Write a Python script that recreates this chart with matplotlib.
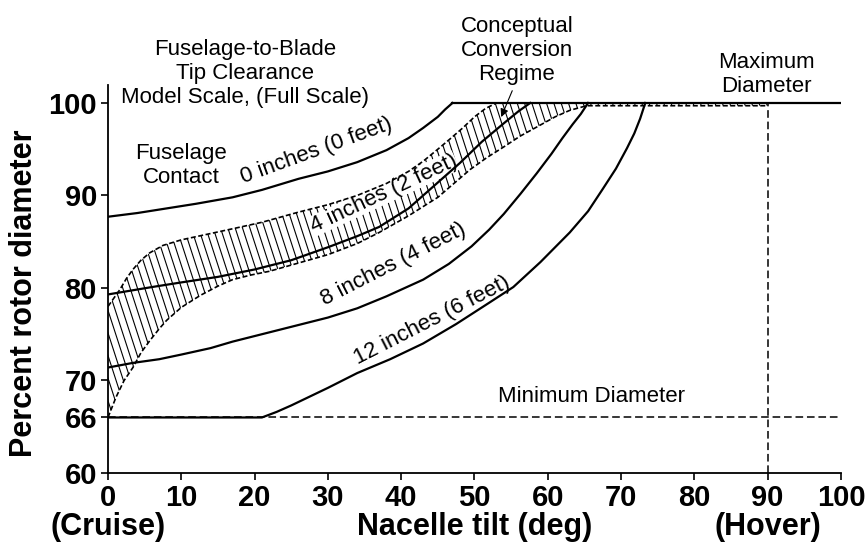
import numpy as np
import matplotlib.pyplot as plt
from matplotlib.collections import LineCollection
from matplotlib.patches import Polygon

plt.rcParams['font.family'] = ['Liberation Sans', 'DejaVu Sans']

# curves (nacelle tilt deg, percent rotor diameter)
curve_0in_x = [0, 4, 8, 12, 17, 21, 26, 30, 34, 38, 41, 43, 45, 46, 47]
curve_0in_y = [87.7, 88.1, 88.6, 89.1, 89.8, 90.6, 91.8, 92.6, 93.6, 94.9, 96.2, 97.3, 98.5, 99.3, 100]
curve_4in_x = [0, 3, 6, 10, 15, 20, 25, 30, 34, 37, 41, 45, 48, 51, 54, 56, 57.6]
curve_4in_y = [79.3, 79.7, 80.1, 80.6, 81.2, 82.0, 83.0, 84.4, 85.6, 86.6, 88.6, 91.4, 93.5, 95.8, 97.8, 99.1, 100]
curve_8in_x = [0, 3.4, 7, 10, 14, 17, 21, 25, 30, 34, 38, 43, 46.5, 49.6, 52, 54, 56.3,
               58.5, 60.5, 62, 63.4, 64.5, 65.5]
curve_8in_y = [71.4, 71.9, 72.3, 72.8, 73.5, 74.2, 75.0, 75.8, 76.8, 77.8, 79.1, 80.9, 82.6,
               84.5, 86.3, 88.0, 90.2, 92.4, 94.5, 96.2, 97.7, 98.8, 100]
curve_12in_x = [0, 21, 23, 25, 30, 34, 38.5, 43, 47.5, 52, 55.3, 59, 63, 65.5, 67.5, 69.3,
                70.8, 71.8, 72.6, 73.3]
curve_12in_y = [66, 66, 66.6, 67.3, 69.2, 70.8, 72.3, 74.0, 76.1, 78.4, 80.1, 82.8, 86, 88.3,
                90.7, 92.9, 95.1, 96.7, 98.3, 100]

# conceptual conversion regime boundaries
regime_upper_x = [0, 0.8, 1.6, 2.5, 3.4, 4.5, 5.7, 7.5, 10, 13.5, 17, 21, 26, 30, 34, 38, 41,
                  43, 45, 46.8, 48.4, 50, 51.5, 53]
regime_upper_y = [78, 78.9, 79.8, 81, 82, 83, 83.8, 84.6, 85.2, 85.8, 86.4, 87.1, 88.2, 89.0,
                  90.0, 91.3, 92.6, 93.7, 95.0, 96.2, 97.3, 98.5, 99.4, 100]
regime_lower_x = [0, 1.1, 2.2, 3.4, 4.5, 5.7, 7, 8, 10, 12.6, 15, 17, 19.5, 22, 26, 30, 34, 37,
                  41, 45, 47.2, 49.4, 51.7, 53.9, 56.2, 58.5, 61, 63, 65.3, 90]
regime_lower_y = [66, 68.2, 70, 71.4, 73, 74.3, 75.6, 76.5, 77.9, 79.2, 80.2, 80.9, 81.4, 81.8,
                  82.7, 83.6, 84.8, 86.0, 87.8, 89.8, 91.3, 92.8, 94.1, 95.2, 96.4, 97.4, 98.5,
                  99.2, 99.7, 99.7]

min_diameter = 66
max_diameter = 100
max_diam_start = 47
hover_tilt = 90

xticks = list(range(0, 101, 10))
yticks = [60, 66, 70, 80, 90, 100]

fig = plt.figure(figsize=(8.66, 5.48), dpi=100)
ax = fig.add_axes([0.1247, 0.1369, 0.8464, 0.7073])
ax.set_xlim(0, 100)
ax.set_ylim(60, 101.9)

# hatched regime
poly_pts = list(zip(regime_upper_x, regime_upper_y)) + [(90, 100)] + \
    list(zip(regime_lower_x[::-1], regime_lower_y[::-1]))
poly = Polygon(poly_pts, closed=True, facecolor='none', edgecolor='none')
ax.add_patch(poly)
segs = [[(x0, 102), (x0 + 17.2, 60)] for x0 in np.arange(-18, 92, 1.0)]
hatch = LineCollection(segs, colors='black', linewidths=0.8, zorder=1)
hatch.set_clip_path(poly)
ax.add_collection(hatch)

ax.plot(regime_upper_x, regime_upper_y, color='black', lw=1.2, ls=(0, (3, 1.5)))
ax.plot(regime_lower_x, regime_lower_y, color='black', lw=1.2, ls=(0, (3, 1.5)))

# clearance curves
for cx, cy in [(curve_0in_x, curve_0in_y), (curve_4in_x, curve_4in_y),
               (curve_8in_x, curve_8in_y), (curve_12in_x, curve_12in_y)]:
    ax.plot(cx, cy, color='black', lw=1.6, solid_joinstyle='round')

# limits
ax.plot([max_diam_start, 100], [max_diameter, max_diameter], color='black', lw=1.6)
ax.plot([0, 100], [min_diameter, min_diameter], color='black', lw=1.1, ls=(0, (5, 2.5)))
ax.plot([hover_tilt, hover_tilt], [60, max_diameter], color='black', lw=1.1, ls=(0, (5, 2.5)))

# curve labels
lab = dict(fontsize=16, ha='center', va='center', rotation_mode='anchor')
ax.text(28.4, 94.8, '0 inches (0 feet)', rotation=20, **lab)
ax.text(37.6, 90.2, '4 inches (2 feet)', rotation=25, zorder=1.5,
        bbox=dict(facecolor='white', edgecolor='none', pad=0), **lab)
ax.text(38.9, 82.5, '8 inches (4 feet)', rotation=27, **lab)
ax.text(44.2, 76.5, '12 inches (6 feet)', rotation=27, **lab)

ann = dict(fontsize=16, ha='center', va='center', linespacing=1.2)
ax.text(18.7, 103.2, 'Fuselage-to-Blade\nTip Clearance\nModel Scale, (Full Scale)', **ann)
ax.text(10, 93.2, 'Fuselage\nContact', **ann)
ax.text(55.8, 105.7, 'Conceptual\nConversion\nRegime', **ann)
ax.text(89.8, 103.1, 'Maximum\nDiameter', **ann)
ax.text(65.9, 68.3, 'Minimum Diameter', **ann)
ax.annotate('', xy=(53.5, 98.2), xytext=(55.3, 101.6), annotation_clip=False,
            arrowprops=dict(arrowstyle='-|>', color='black', lw=0.8, mutation_scale=12))

# axes styling
for s in ['top', 'right']:
    ax.spines[s].set_visible(False)
for s in ['left', 'bottom']:
    ax.spines[s].set_linewidth(1.3)
ax.set_xticks(xticks)
ax.set_yticks(yticks)
ax.tick_params(direction='out', length=5, width=1.2, labelsize=21, pad=3)
for t in ax.get_xticklabels() + ax.get_yticklabels():
    t.set_fontweight('bold')

ax.set_xlabel('Nacelle tilt (deg)', fontsize=22, fontweight='bold', va='center')
ax.xaxis.set_label_coords(0.5, -0.139)
ax.set_ylabel('Percent rotor diameter', fontsize=22, fontweight='bold', va='center')
ax.yaxis.set_label_coords(-0.115, 0.464)
ax.text(0, -0.139, '(Cruise)', transform=ax.get_xaxis_transform(), fontsize=22,
        fontweight='bold', ha='center', va='center')
ax.text(90, -0.139, '(Hover)', transform=ax.get_xaxis_transform(), fontsize=22,
        fontweight='bold', ha='center', va='center')

fig.savefig('out.png', dpi=100)
